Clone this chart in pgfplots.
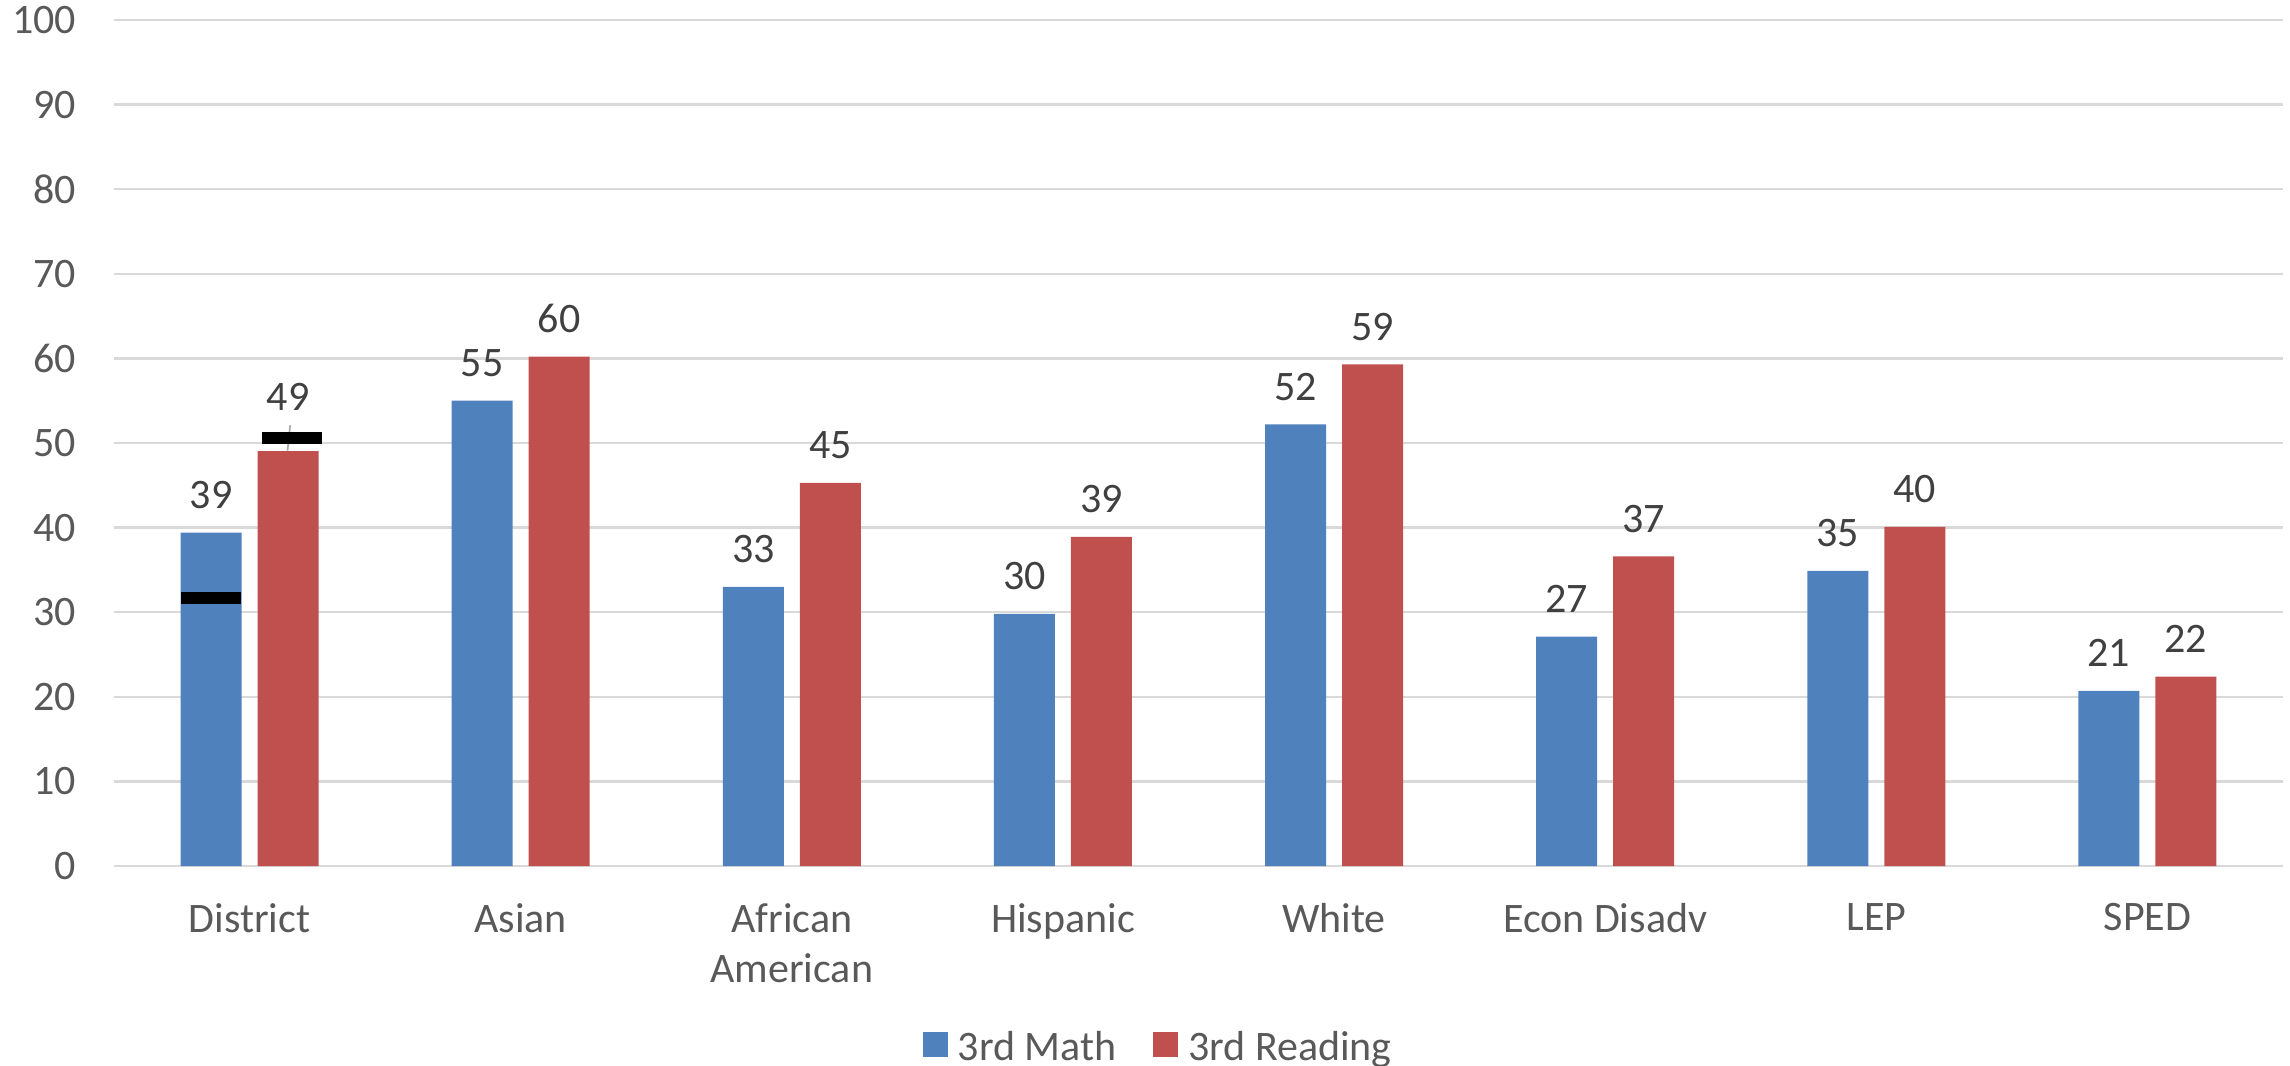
\documentclass[border=0pt]{standalone}
\usepackage{pgfplots}
\pgfplotsset{compat=1.18}
\usepackage{pgfplotstable}
\usepackage{fontspec}
\setmainfont{Carlito}
\definecolor{mblue}{HTML}{4F81BD}
\definecolor{mred}{HTML}{C0504D}
\definecolor{gridc}{HTML}{D9D9D9}
\definecolor{txt}{HTML}{595959}
\definecolor{lbl}{HTML}{404040}
\pgfplotstableread{
x math mlab rdg rlab rshift
0 39.4 39 49.05 49 12.1
1 55.0 55 60.2 60 7
2 33.0 33 45.3 45 7
3 29.8 30 38.9 39 7
4 52.2 52 59.3 59 7
5 27.1 27 36.6 37 7
6 34.9 35 40.1 40 7
7 20.7 21 22.4 22 7
}\datatable
\newcommand{\cf}{\fontsize{12.6}{15}\selectfont}
\begin{document}
\begin{tikzpicture}
\begin{axis}[
  name=ax,
  scale only axis,
  width=650.7pt, height=253.8pt,
  xmin=-0.5, xmax=7.5,
  ymin=0, ymax=100,
  ytick={0,10,...,100},
  xtick={0,...,7},
  xticklabels={District, Asian, {African\\American}, Hispanic, White, Econ Disadv, LEP, SPED},
  axis line style={draw=none},
  tick style={draw=none},
  ymajorgrids, grid style={gridc, line width=0.7pt},
  /pgf/number format/assume math mode=true,
  yticklabel style={font=\cf, text=txt, anchor=east, inner sep=0pt, xshift=-11.2pt},
  xticklabel style={font=\cf, text=txt, anchor=north, inner sep=0pt, yshift=-11pt, align=center},
  legend style={at={(0.481,0)}, anchor=north, yshift=-49.3pt, draw=none, fill=none,
    inner sep=0pt, font=\cf, text=txt, legend columns=-1,
    nodes={inner sep=0pt},
    /tikz/every odd column/.append style={column sep=3pt},
    /tikz/every even column/.append style={column sep=11pt}},
  legend image code/.code={\fill[#1] (0pt,-2.8pt) rectangle (7.5pt,4.7pt);},
  clip=false,
]
\addplot[ybar, bar width=18.3pt, bar shift=-11.55pt, fill=mblue, draw=none,
  nodes near coords, point meta=explicit symbolic,
  nodes near coords style={font=\cf, text=lbl, inner sep=0pt, anchor=south, xshift=-11.55pt, yshift=7pt}]
  table[x=x, y=math, meta=mlab] {\datatable};
\addlegendentry{3rd Math}
\addplot[ybar, bar width=18.3pt, bar shift=11.55pt, fill=mred, draw=none,
  nodes near coords, point meta=explicit symbolic,
  visualization depends on={\thisrow{rshift} \as \myshift},
  nodes near coords style={font=\cf, text=lbl, inner sep=0pt, anchor=south, xshift=11.55pt, yshift=\myshift pt}]
  table[x=x, y=rdg, meta=rlab] {\datatable};
\addlegendentry{3rd Reading}
\addplot[forget plot, draw=gray!70, line width=0.5pt, mark=none] coordinates {(0.140,49.1) (0.150,52.1)};
\addplot[forget plot, only marks, mark=-, mark size=9pt, mark options={line width=3.5pt, draw=black}]
  coordinates {(-0.142,31.7) (0.155,50.6)};
\end{axis}
\pgfresetboundingbox
\path[use as bounding box] ([xshift=-34.2pt,yshift=-59.7pt]ax.south west) rectangle ([xshift=2.1pt,yshift=6pt]ax.north east);
\end{tikzpicture}
\end{document}
